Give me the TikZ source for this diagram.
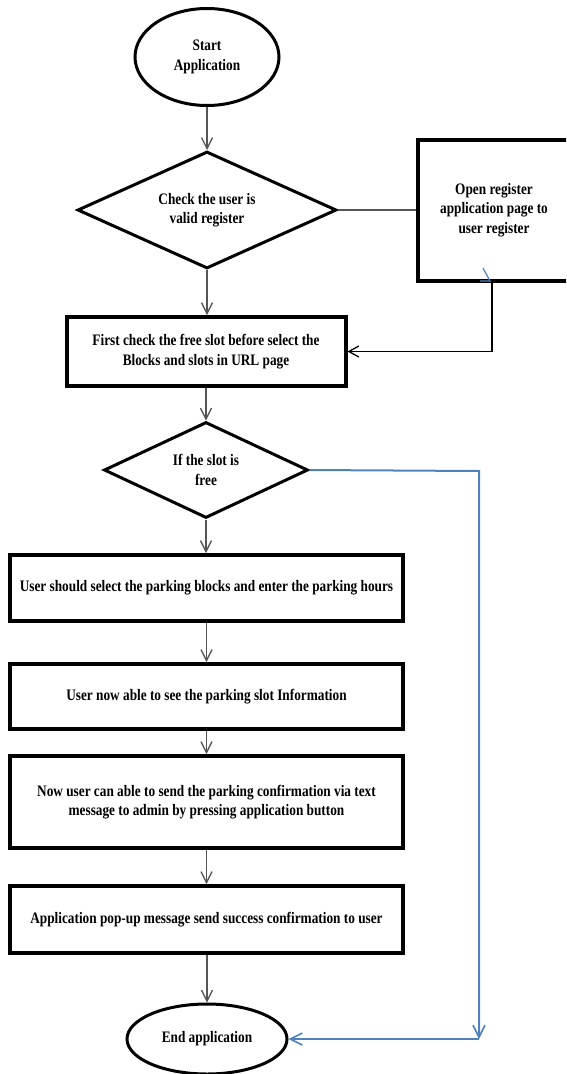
\documentclass[tikz,border=0pt]{standalone}
\usepackage{fontspec}
\setmainfont{Liberation Serif}[FakeStretch=0.83]
\usetikzlibrary{shapes.geometric,arrows.meta}
\definecolor{linkgray}{RGB}{85,85,85}
\definecolor{linkblue}{RGB}{79,129,189}
\tikzset{
  txt/.style={font=\bfseries\fontsize{16}{19.5}\selectfont, align=center, text=black},
  terminal/.style={txt, ellipse, draw=black, line width=3pt, inner sep=0pt},
  decision/.style={txt, diamond, draw=black, line width=3pt, inner sep=0pt, aspect=2.2},
  process/.style={txt, rectangle, draw=black, line width=4pt, inner sep=0pt},
  flow/.style={draw=linkgray, line width=1.3pt, -{Straight Barb[length=11pt,width=11pt,line width=1.3pt]}},
  plainlink/.style={draw=linkgray, line width=1.3pt},
  blackflow/.style={draw=black, line width=1.5pt, -{Straight Barb[length=10pt,width=11pt,line width=1.3pt]}},
  blueflow/.style={draw=linkblue, line width=2pt, -{Straight Barb[length=12pt,width=12pt,line width=1.6pt]}},
}
\begin{document}
\begin{tikzpicture}[x=1pt,y=-1pt]
\useasboundingbox (0,0) rectangle (566,1074);
\begin{scope}
\clip (0,0) rectangle (566,1074);
\node[terminal, minimum width=144pt, minimum height=97pt] (start) at (207,57) {Start\\Application};
\node[decision, minimum width=259pt, minimum height=117pt] (d1) at (207,210) {Check the user is\\valid register};
\node[process, minimum width=152pt, minimum height=141pt] (reg) at (494,210) {Open register\\application page to\\user register};
\node[process, minimum width=279pt, minimum height=69pt] (r1) at (206,351.5) {First check the free slot before select the\\Blocks and slots in URL page};
\node[decision, minimum width=204pt, minimum height=96pt, aspect=2.1] (d2) at (206,470) {If the slot is\\free};
\node[process, minimum width=393pt, minimum height=66pt] (r2) at (206.5,588) {User should select the parking blocks and enter the parking hours};
\node[process, minimum width=393pt, minimum height=65pt] (r3) at (206.5,696.5) {User now able to see the parking slot Information};
\node[process, minimum width=393pt, minimum height=92pt] (r4) at (206.5,802) {Now user can able to send the parking confirmation via text\\message to admin by pressing application button};
\node[process, minimum width=393pt, minimum height=67pt] (r5) at (206.5,919.5) {Application pop-up message send success confirmation to user};
\node[terminal, minimum width=160pt, minimum height=70pt] (end) at (207,1039) {End application};

\coordinate (bx) at (492,281);
\coordinate (bc1) at (479,471);
\coordinate (bc2) at (479,1039);

\draw[flow] (start.south) -- (d1.north);
\draw[plainlink] (d1.east) -- (reg.west);
\draw[flow] (d1.south) -- (d1.south |- r1.north);
\draw[blackflow] (reg.south -| bx) |- (r1.east);
\draw[draw=linkblue, line width=1.2pt] (483,268) -- (490,281) -- (480,281);
\draw[flow] (r1.south -| d2.north) -- (d2.north);
\draw[flow] (d2.south) -- (d2.south |- r2.north);
\draw[flow] (r2.south) -- (r3.north);
\draw[flow] (r3.south) -- (r4.north);
\draw[flow] (r4.south) -- (r5.north);
\draw[flow] (r5.south -| end.north) -- (end.north);
\draw[blueflow] (d2.east) -- (bc1) -- (bc2);
\draw[blueflow] (bc2) -- (end.east);
\end{scope}
\end{tikzpicture}
\end{document}
